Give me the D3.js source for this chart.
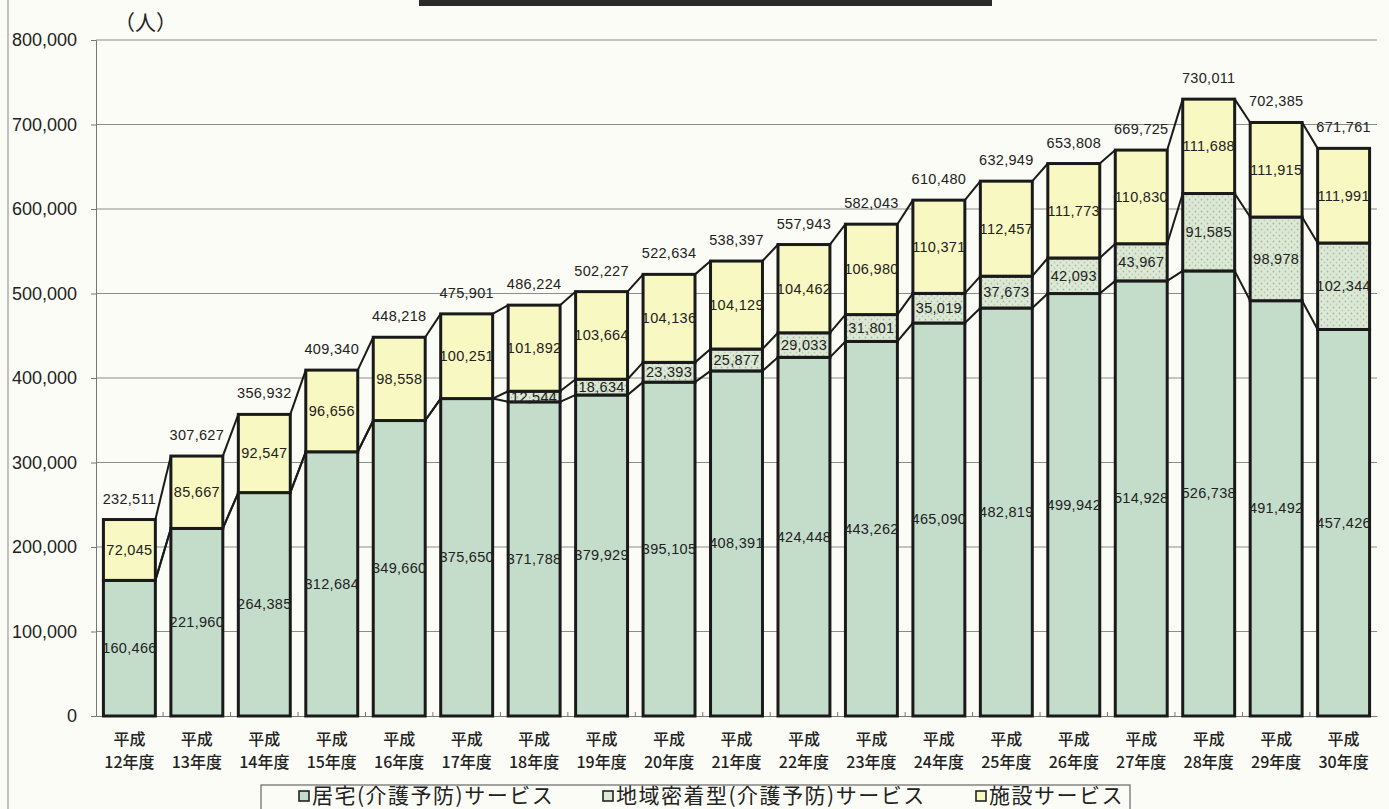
<!DOCTYPE html>
<meta charset="utf-8">
<style>
body { margin: 0; background: #fcfcf6; }
svg { display: block; background: #fcfcf6; }
.num { font: 14.5px "Liberation Sans", Arial, sans-serif; fill: #222; letter-spacing: 0.3px; }
.ytick { font: 18px "Liberation Sans", Arial, sans-serif; fill: #222; }
.jp { font-family: "Noto Sans CJK JP", sans-serif; fill: #222; }
</style>
<body>
<div id="chart"></div>
<script src="https://d3js.org/d3.v7.min.js"></script>
<script>
// 年度 (category) labels
var years = ["12", "13", "14", "15", "16", "17", "18", "19", "20", "21", "22", "23", "24", "25", "26", "27", "28", "29", "30"];
// 居宅（介護予防）サービス
var kyotaku = [160466, 221960, 264385, 312684, 349660, 375650, 371788, 379929, 395105, 408391, 424448, 443262, 465090, 482819, 499942, 514928, 526738, 491492, 457426];
// 地域密着型（介護予防）サービス
var chiiki = [0, 0, 0, 0, 0, 0, 12544, 18634, 23393, 25877, 29033, 31801, 35019, 37673, 42093, 43967, 91585, 98978, 102344];
// 施設サービス
var shisetsu = [72045, 85667, 92547, 96656, 98558, 100251, 101892, 103664, 104136, 104129, 104462, 106980, 110371, 112457, 111773, 110830, 111688, 111915, 111991];
// 合計
var totals = [232511, 307627, 356932, 409340, 448218, 475901, 486224, 502227, 522634, 538397, 557943, 582043, 610480, 632949, 653808, 669725, 730011, 702385, 671761];
var yTicks = [0, 100000, 200000, 300000, 400000, 500000, 600000, 700000, 800000];
var seriesNames = ["居宅(介護予防)サービス", "地域密着型(介護予防)サービス", "施設サービス"];

var W = 1389, H = 809;
var mLeft = 96, mRight = 1377, mTop = 40, mBottom = 716;

var svg = d3.select("#chart").append("svg")
  .attr("width", W).attr("height", H);

var defs = svg.append("defs");
var pat = defs.append("pattern")
  .attr("id", "dots").attr("patternUnits", "userSpaceOnUse")
  .attr("width", 6).attr("height", 6);
pat.append("rect").attr("width", 6).attr("height", 6).attr("fill", "#dde8d6");
pat.append("circle").attr("cx", 1.5).attr("cy", 1.5).attr("r", 0.9).attr("fill", "#9dbf9f");
pat.append("circle").attr("cx", 4.5).attr("cy", 4.5).attr("r", 0.9).attr("fill", "#b9cfa8");

var fills = ["#c4ddcb", "url(#dots)", "#f8f8c2"];

var rows = years.map(function(y, i) {
  return { cat: "平成" + y + "年度", y: y, k: kyotaku[i], c: chiiki[i], s: shisetsu[i], t: totals[i] };
});

var x = d3.scaleBand().domain(rows.map(function(d) { return d.cat; }))
  .range([mLeft, mRight]).paddingInner(0.23).paddingOuter(0.11);
var yScale = d3.scaleLinear().domain([0, 800000]).range([mBottom, mTop]);

// scan edge line at far left
svg.append("line").attr("x1", 8).attr("x2", 8).attr("y1", 0).attr("y2", H)
  .attr("stroke", "#9a9a9a").attr("stroke-width", 1.2);

// title box remnant at top
svg.append("rect").attr("x", 419).attr("y", -10).attr("width", 573).attr("height", 16)
  .attr("fill", "#2a2a2a");

// gridlines
svg.append("g").selectAll("line").data(yTicks.filter(function(d) { return d > 0; }))
  .enter().append("line")
  .attr("x1", mLeft).attr("x2", mRight)
  .attr("y1", function(d) { return yScale(d); }).attr("y2", function(d) { return yScale(d); })
  .attr("stroke", "#8c8c8c").attr("stroke-width", 1);

// y axis
var yAxis = d3.axisLeft(yScale).tickValues(yTicks).tickSize(5).tickPadding(14)
  .tickFormat(d3.format(","));
var ya = svg.append("g").attr("transform", "translate(" + mLeft + ",0)").call(yAxis);
ya.select(".domain").attr("stroke", "#777");
ya.selectAll(".tick line").attr("stroke", "#777");
ya.selectAll("text").attr("class", "ytick").attr("fill", null);
ya.attr("font-size", null).attr("font-family", null);

// x axis
var xAxis = d3.axisBottom(x).tickSize(0).tickFormat("");
var xa = svg.append("g").attr("transform", "translate(0," + mBottom + ")").call(xAxis);
xa.select(".domain").attr("stroke", "#777");
// small boundary ticks
xa.selectAll(".bnd").data(rows.slice(1)).enter().append("line")
  .attr("x1", function(d) { return x(d.cat) - x.step() * x.paddingInner() / 2; })
  .attr("x2", function(d) { return x(d.cat) - x.step() * x.paddingInner() / 2; })
  .attr("y1", -4).attr("y2", 0).attr("stroke", "#777");

// category labels
var cl = svg.append("g").selectAll("text").data(rows).enter().append("text")
  .attr("class", "jp").attr("text-anchor", "middle")
  .style("font-size", "16px").style("font-weight", 500);
cl.append("tspan").attr("x", function(d) { return x(d.cat) + x.bandwidth() / 2; })
  .attr("y", 745).text("平成");
cl.append("tspan").attr("x", function(d) { return x(d.cat) + x.bandwidth() / 2; })
  .attr("y", 768).text(function(d) { return d.y + "年度"; });

// unit
svg.append("text").attr("class", "jp").attr("x", 114).attr("y", 30)
  .style("font-size", "21px").text("（人）");

// stack
var stack = d3.stack().keys(["k", "c", "s"]);
var layers = stack(rows);

// series connector lines
var boundaries = [
  rows.map(function(d) { return d.k; }),
  rows.map(function(d) { return d.k + d.c; }),
  rows.map(function(d) { return d.k + d.c + d.s; })
];
var conn = svg.append("g");
boundaries.forEach(function(b) {
  for (var i = 0; i < rows.length - 1; i++) {
    conn.append("line")
      .attr("x1", x(rows[i].cat) + x.bandwidth()).attr("y1", yScale(b[i]))
      .attr("x2", x(rows[i + 1].cat)).attr("y2", yScale(b[i + 1]))
      .attr("stroke", "#1a1a1a").attr("stroke-width", 2);
  }
});

// bars
var layer = svg.selectAll(".layer").data(layers).enter().append("g")
  .attr("fill", function(d, i) { return fills[i]; });
layer.selectAll("rect").data(function(d) { return d.filter(function(e) { return e[1] > e[0]; }); })
  .enter().append("rect")
  .attr("x", function(d) { return x(d.data.cat); })
  .attr("y", function(d) { return yScale(d[1]); })
  .attr("width", x.bandwidth())
  .attr("height", function(d) { return yScale(d[0]) - yScale(d[1]); })
  .attr("stroke", "#1a1a1a").attr("stroke-width", 3);

// segment labels
layers.forEach(function(l) {
  svg.append("g").selectAll("text").data(l.filter(function(d) { return d[1] > d[0]; }))
    .enter().append("text").attr("class", "num").attr("text-anchor", "middle")
    .attr("x", function(d) { return x(d.data.cat) + x.bandwidth() / 2; })
    .attr("y", function(d) { return (yScale(d[0]) + yScale(d[1])) / 2 + 5; })
    .text(function(d) { return d3.format(",")(d[1] - d[0]); });
});

// totals
svg.append("g").selectAll("text").data(rows).enter().append("text")
  .attr("class", "num").attr("text-anchor", "middle")
  .attr("x", function(d) { return x(d.cat) + x.bandwidth() / 2; })
  .attr("y", function(d) { return yScale(d.t) - 16; })
  .text(function(d) { return d3.format(",")(d.t); });

// legend
svg.append("rect").attr("x", 261).attr("y", 785).attr("width", 869).attr("height", 40)
  .attr("fill", "#fcfcf6").attr("stroke", "#666").attr("stroke-width", 1.2);
var legX = [299, 603, 976];
var legFill = ["#c4ddcb", "#dde8d6", "#f8f8c2"];
seriesNames.forEach(function(n, i) {
  svg.append("rect").attr("x", legX[i]).attr("y", 791).attr("width", 10).attr("height", 10)
    .attr("fill", legFill[i]).attr("stroke", "#222").attr("stroke-width", 1.6);
  svg.append("text").attr("class", "jp").attr("x", legX[i] + 13).attr("y", 803)
    .style("font-size", "21px").style("letter-spacing", "1.5px").text(n);
});
</script>
